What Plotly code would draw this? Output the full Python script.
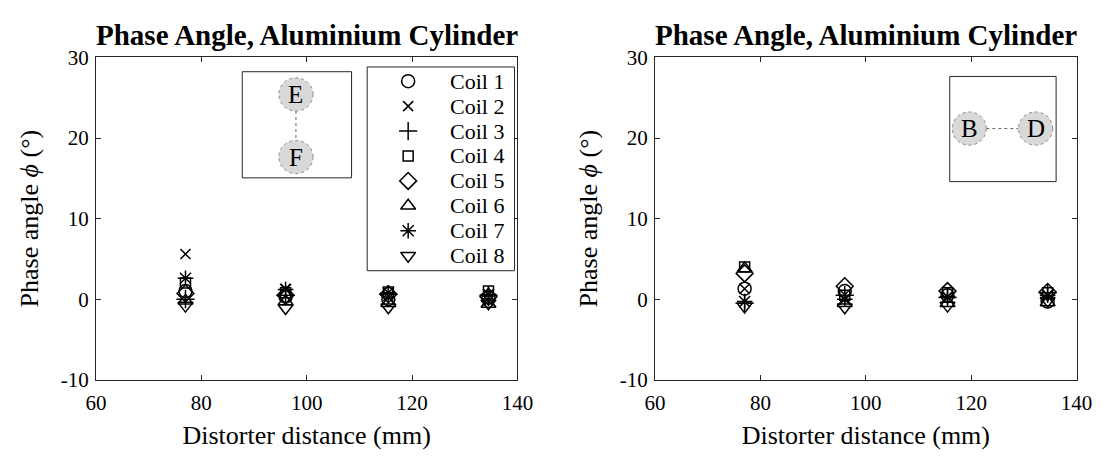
import plotly.graph_objects as go

# ---------------- data ----------------
distance_mm = [77, 96, 115.5, 134.5]
coil_names = ["Coil 1", "Coil 2", "Coil 3", "Coil 4", "Coil 5", "Coil 6", "Coil 7", "Coil 8"]

# left panel (E-F)
ef_coil1 = [1.0, 0.3, 0.0, 0.2]
ef_coil2 = [5.6, 1.3, 0.4, -0.2]
ef_coil3 = [0.0, 0.5, 0.6, 0.5]
ef_coil4 = [2.0, 0.8, 0.9, 1.0]
ef_coil5 = [0.7, 0.5, 0.6, 0.3]
ef_coil6 = [-0.2, -0.3, -0.5, -0.6]
ef_coil7 = [2.6, 1.2, 0.8, 0.6]
ef_coil8 = [-0.8, -1.1, -1.0, -0.5]

# right panel (B-D)
bd_coil1 = [1.3, 1.0, 0.5, -0.3]
bd_coil2 = [1.3, 0.0, 0.3, 0.5]
bd_coil3 = [-0.5, 0.5, 0.2, 0.8]
bd_coil4 = [4.0, 0.5, 0.8, 0.8]
bd_coil5 = [3.2, 1.6, 1.0, 0.9]
bd_coil6 = [3.8, -0.5, -0.5, -0.4]
bd_coil7 = [-0.3, 0.0, 0.3, 0.5]
bd_coil8 = [-0.9, -1.0, -0.8, -0.2]

ef_series = [ef_coil1, ef_coil2, ef_coil3, ef_coil4, ef_coil5, ef_coil6, ef_coil7, ef_coil8]
bd_series = [bd_coil1, bd_coil2, bd_coil3, bd_coil4, bd_coil5, bd_coil6, bd_coil7, bd_coil8]

x_ticks = [60, 80, 100, 120, 140]
x_ticktext = ["60", "80", "100", "120", "140"]
y_ticks = [-10, 0, 10, 20, 30]
y_ticktext = ["-10", "0", "10", "20", "30"]

title_text = "Phase Angle, Aluminium Cylinder"
x_title = "Distorter distance (mm)"
y_title = "Phase angle <i>ϕ</i> (°)"

# ---------------- styling ----------------
symbols = ["circle-open", "x-thin-open", "cross-thin-open", "square-open",
           "diamond-open", "triangle-up-open", "asterisk-open", "triangle-down-open"]
sizes = [13, 10, 13, 10, 13, 13, 13, 13]
FONT = "Liberation Serif"
W, H = 1117, 459

fig = go.Figure()

for i, name in enumerate(coil_names):
    fig.add_trace(go.Scatter(
        x=distance_mm, y=ef_series[i], mode="markers", name=name,
        xaxis="x", yaxis="y",
        marker=dict(symbol=symbols[i], size=sizes[i], color="black",
                    line=dict(color="black", width=1.5)),
        showlegend=False))
for i, name in enumerate(coil_names):
    fig.add_trace(go.Scatter(
        x=distance_mm, y=bd_series[i], mode="markers", name=name,
        xaxis="x2", yaxis="y2",
        marker=dict(symbol=symbols[i], size=sizes[i], color="black",
                    line=dict(color="black", width=1.5)),
        showlegend=False))

# legend (keys drawn on an overlay axis inside the legend box)
LEG_L, LEG_R, LEG_T, LEG_B = 365, 516, 58, 273
ROW0, ROW_STEP = 15, 26.3
row_pos = [ROW0 + ROW_STEP * k for k in range(len(coil_names))]
for i, name in enumerate(coil_names):
    fig.add_trace(go.Scatter(
        x=[42], y=[row_pos[i]], mode="markers", name=name,
        xaxis="x3", yaxis="y3", hoverinfo="skip",
        marker=dict(symbol=symbols[i], size=sizes[i], color="black",
                    line=dict(color="black", width=1.5)),
        showlegend=False))
    fig.add_annotation(text=name, x=83, y=row_pos[i], xref="x3", yref="y3",
                       showarrow=False, xanchor="left", yanchor="middle",
                       font=dict(family=FONT, size=22, color="black"))

y_dom = [1 - 388 / H, 1 - 48 / H]
xl_dom = [87 / W, 519 / W]
xr_dom = [660 / W, 1092 / W]

axis_common = dict(showline=True, linecolor="#262626", linewidth=1, mirror="ticks",
                   ticks="inside", ticklen=5, tickcolor="#262626", showgrid=False,
                   zeroline=False, tickfont=dict(family=FONT, size=21, color="black"))
xt = dict(text=x_title, font=dict(family=FONT, size=26), standoff=11)
yt = dict(text=y_title, font=dict(family=FONT, size=26), standoff=14)

fig.update_layout(
    width=W, height=H, margin=dict(l=0, r=0, t=0, b=0),
    paper_bgcolor="white", plot_bgcolor="white",
    font=dict(family=FONT, color="black"),
    showlegend=False,
    xaxis=dict(domain=xl_dom, range=[60, 140], tickvals=x_ticks, ticktext=x_ticktext,
               anchor="y", title=xt, ticklabelstandoff=4, **axis_common),
    yaxis=dict(domain=y_dom, range=[-10, 30], tickvals=y_ticks, ticktext=y_ticktext,
               anchor="x", title=yt, ticklabelstandoff=2, **axis_common),
    xaxis2=dict(domain=xr_dom, range=[60, 140], tickvals=x_ticks, ticktext=x_ticktext,
                anchor="y2", title=xt, ticklabelstandoff=4, **axis_common),
    yaxis2=dict(domain=y_dom, range=[-10, 30], tickvals=y_ticks, ticktext=y_ticktext,
                anchor="x2", title=yt, ticklabelstandoff=2, **axis_common),
    xaxis3=dict(domain=[LEG_L / W, LEG_R / W], range=[0, LEG_R - LEG_L], visible=False,
                anchor="y3", fixedrange=True),
    yaxis3=dict(domain=[1 - LEG_B / H, 1 - LEG_T / H], range=[LEG_B - LEG_T, 0], visible=False,
                anchor="x3", fixedrange=True),
)

# legend frame
fig.add_shape(type="rect", xref="x3 domain", yref="y3 domain", x0=0, x1=1, y0=0, y1=1,
              line=dict(color="#262626", width=1), fillcolor="rgba(0,0,0,0)", layer="above")

# titles
for xc in [(xl_dom[0] + xl_dom[1]) / 2, (xr_dom[0] + xr_dom[1]) / 2]:
    fig.add_annotation(text="<b>" + title_text + "</b>", x=xc, y=1 - 24 / H,
                       xref="paper", yref="paper", showarrow=False,
                       font=dict(family=FONT, size=29, color="black"),
                       xanchor="center", yanchor="middle")

# insets
def inset(xref, yref, box, circles, links):
    x0, x1, y0, y1 = box
    fig.add_shape(type="rect", xref=xref, yref=yref, x0=x0, x1=x1, y0=y0, y1=y1,
                  line=dict(color="#262626", width=1), fillcolor="white", layer="above")
    for (a, b) in links:
        fig.add_shape(type="line", xref=xref, yref=yref, x0=a[0], y0=a[1], x1=b[0], y1=b[1],
                      line=dict(color="#666666", width=1, dash="dot"), layer="above")
    for (cx, cy, label) in circles:
        rx, ry = 17.5 / 432, 17.5 / 340
        fig.add_shape(type="circle", xref=xref, yref=yref, x0=cx - rx, x1=cx + rx,
                      y0=cy - ry, y1=cy + ry, fillcolor="#d9d9d9",
                      line=dict(color="#888888", width=1, dash="dot"), layer="above")
        fig.add_annotation(text=label, x=cx, y=cy, xref=xref, yref=yref, showarrow=False,
                           font=dict(family=FONT, size=25, color="black"),
                           xanchor="center", yanchor="middle")

# left inset E / F
ex = (292 - 87) / 432
ey = (388 - 87) / 340
fy = (388 - 153) / 340
inset("x domain", "y domain",
      ((237 - 87) / 432, (349 - 87) / 432, (388 - 175) / 340, (388 - 63) / 340),
      [(ex, ey, "E"), (ex, fy, "F")],
      [((ex, ey - 17.5 / 340), (ex, fy + 17.5 / 340))])

# right inset B / D
bx = (982 - 660) / 432
dx = (1050 - 660) / 432
by = (388 - 123) / 340
inset("x2 domain", "y2 domain",
      ((962 - 660) / 432, (1071 - 660) / 432, (388 - 179) / 340, (388 - 68) / 340),
      [(bx, by, "B"), (dx, by, "D")],
      [((bx + 17.5 / 432, by), (dx - 17.5 / 432, by))])

fig.write_html("out.html")
